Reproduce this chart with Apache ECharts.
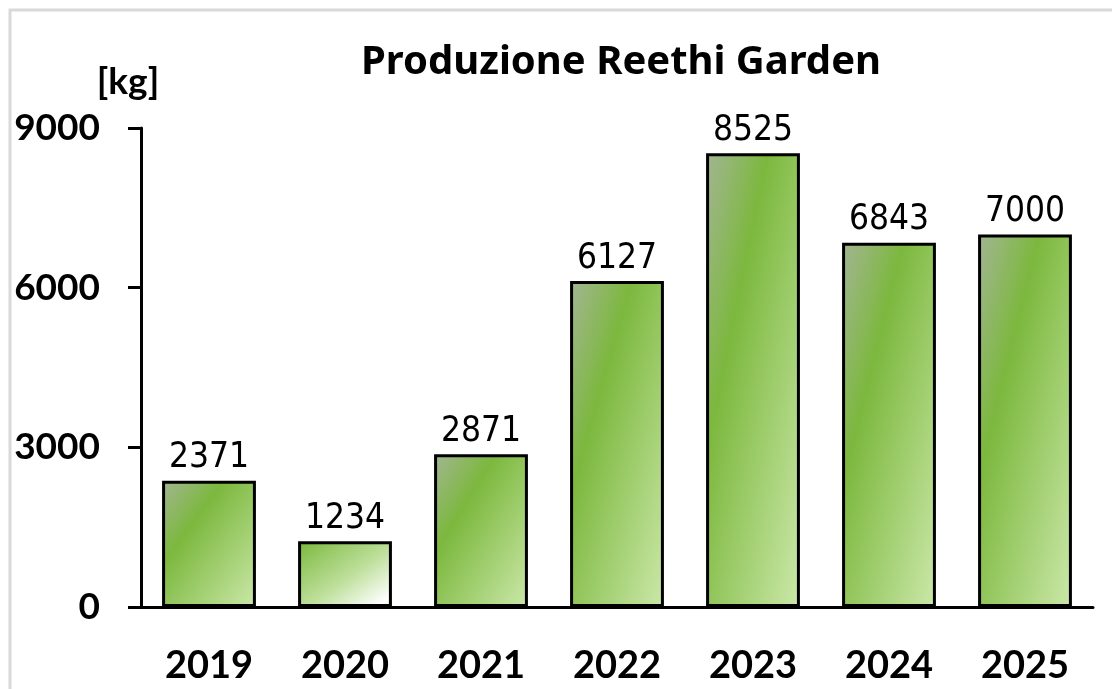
<!DOCTYPE html>
<html>
<head>
<meta charset="utf-8">
<script src="https://cdn.jsdelivr.net/npm/echarts@6/dist/echarts.min.js"></script>
<style>
  html, body { margin: 0; padding: 0; background: #fff; }
  #chart { width: 1112px; height: 689px; }
</style>
</head>
<body>
<div id="chart"></div>
<script>
// dati
const years = ['2019', '2020', '2021', '2022', '2023', '2024', '2025']
const production = [2371, 1234, 2871, 6127, 8525, 6843, 7000]
const yTicks = [0, 3000, 6000, 9000]

const stopsNormal = [
  { offset: 0, color: '#a3b593' },
  { offset: 0.33, color: '#7cb83e' },
  { offset: 1, color: '#cbe8a9' }
]
// il 2020 ha un riempimento diverso (sfuma al bianco)
const stops2020 = [
  { offset: 0, color: '#7ab83c' },
  { offset: 0.55, color: '#bfe09d' },
  { offset: 0.92, color: '#ffffff' },
  { offset: 1, color: '#e8f3dd' }
]

const chart = echarts.init(document.getElementById('chart'))

const option = {
  animation: false,
  title: {
    text: 'Produzione Reethi Garden',
    left: 616,
    top: 38,
    textAlign: 'center',
    textStyle: { fontFamily: 'Noto Sans', fontWeight: 'bold', fontSize: 40, color: '#000' }
  },
  graphic: [
    {
      type: 'rect',
      shape: { x: 10, y: 10, width: 1130, height: 720 },
      style: { fill: 'none', stroke: '#d9d9d9', lineWidth: 3 },
      silent: true
    }
  ],
  grid: { left: 141, right: 19, top: 128, bottom: 82 },
  xAxis: {
    type: 'category',
    data: years,
    axisLine: { lineStyle: { color: '#000', width: 3 } },
    axisTick: { show: false },
    axisLabel: {
      margin: 39,
      fontFamily: 'Lato',
      fontWeight: 'bold',
      fontSize: 38,
      lineHeight: 40,
      color: '#000'
    }
  },
  yAxis: {
    type: 'value',
    min: yTicks[0],
    max: yTicks[yTicks.length - 1],
    interval: yTicks[1] - yTicks[0],
    name: '[kg]',
    nameLocation: 'end',
    nameGap: 27,
    nameTextStyle: {
      fontFamily: 'Lato',
      fontWeight: 'bold',
      fontSize: 37,
      color: '#000',
      padding: [0, 26, 0, 0]
    },
    axisLine: { show: true, lineStyle: { color: '#000', width: 3 } },
    axisTick: { show: true, length: 13, lineStyle: { color: '#000', width: 3 } },
    splitLine: { show: false },
    axisLabel: {
      margin: 41,
      formatter: v => String(v),
      fontFamily: 'Lato',
      fontWeight: 'bold',
      fontSize: 37,
      color: '#000'
    }
  },
  series: [
    {
      type: 'bar',
      barWidth: '69%',
      data: production,
      itemStyle: { color: '#7cb83e', borderColor: '#000', borderWidth: 3 },
      label: {
        show: true,
        position: 'top',
        distance: 5,
        fontFamily: 'DejaVu Sans Condensed, DejaVu Sans',
        fontSize: 35,
        color: '#000'
      }
    }
  ]
}
chart.setOption(option)

// gradiente diagonale "scalato con la forma", come in Excel
const zeroY = chart.convertToPixel({ yAxisIndex: 0 }, 0)
const barW = chart.getModel().getComponent('xAxis', 0).axis.getBandWidth() * 0.69
const barData = production.map((v, i) => {
  const h = Math.max(1, zeroY - chart.convertToPixel({ yAxisIndex: 0 }, v))
  const w = barW
  const d = h * h + w * w
  const x2 = 2 * h * h / d
  const y2 = 2 * w * w / d
  const stops = years[i] === '2020' ? stops2020 : stopsNormal
  return {
    value: v,
    itemStyle: { color: new echarts.graphic.LinearGradient(0, 0, x2, y2, stops) }
  }
})
chart.setOption({ series: [{ data: barData }] })
</script>
</body>
</html>
